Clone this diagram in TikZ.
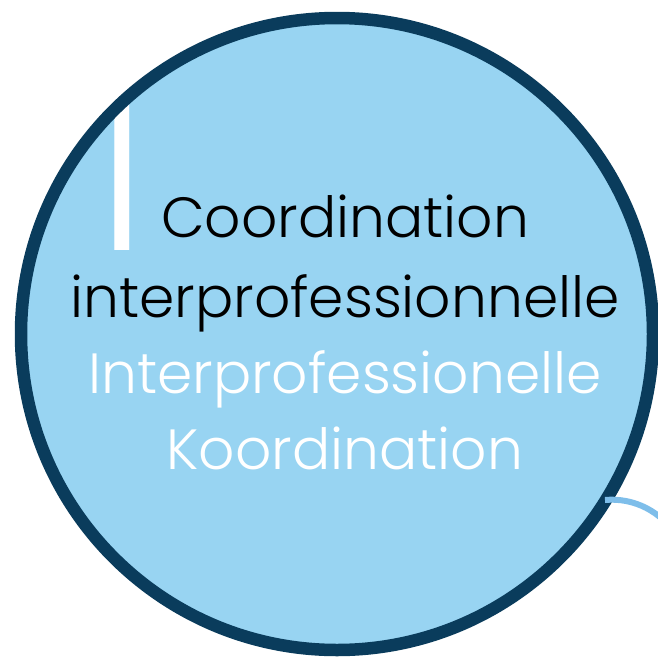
\documentclass[tikz,border=0pt]{standalone}
\usepackage{fontspec}
\setmainfont{Poppins}[UprightFont = * Light]
\definecolor{fillblue}{RGB}{152,212,242}
\definecolor{navy}{RGB}{10,60,92}
\definecolor{arcblue}{RGB}{126,190,234}
\begin{document}
\begin{tikzpicture}[x=1pt,y=-1pt,
  lbl/.style={anchor=base,inner sep=0pt,font=\fontsize{56.7}{56.7}\selectfont},
  numlbl/.style={anchor=base,inner sep=0pt,text depth=0pt,text=white,font=\fontsize{210}{210}\selectfont}]
\useasboundingbox (0,0) rectangle (657,659);
\fill[fillblue] (337,334) circle[radius=316];
\node[numlbl] (num) at (118,250) {1};
\draw[navy,line width=12.5pt] (337,334) circle[radius=316];
\draw[arcblue,line width=6pt] (605,500) arc[start angle=-95.3,end angle=-30,radius=75];
\node[lbl,text=black] (l1) at (345,237) {Coordination};
\node[lbl,text=black] (l2) at (345,317) {interprofessionnelle};
\node[lbl,text=white] (l3) at (345,393) {Interprofessionelle};
\node[lbl,text=white] (l4) at (345,469) {Koordination};
\end{tikzpicture}
\end{document}
